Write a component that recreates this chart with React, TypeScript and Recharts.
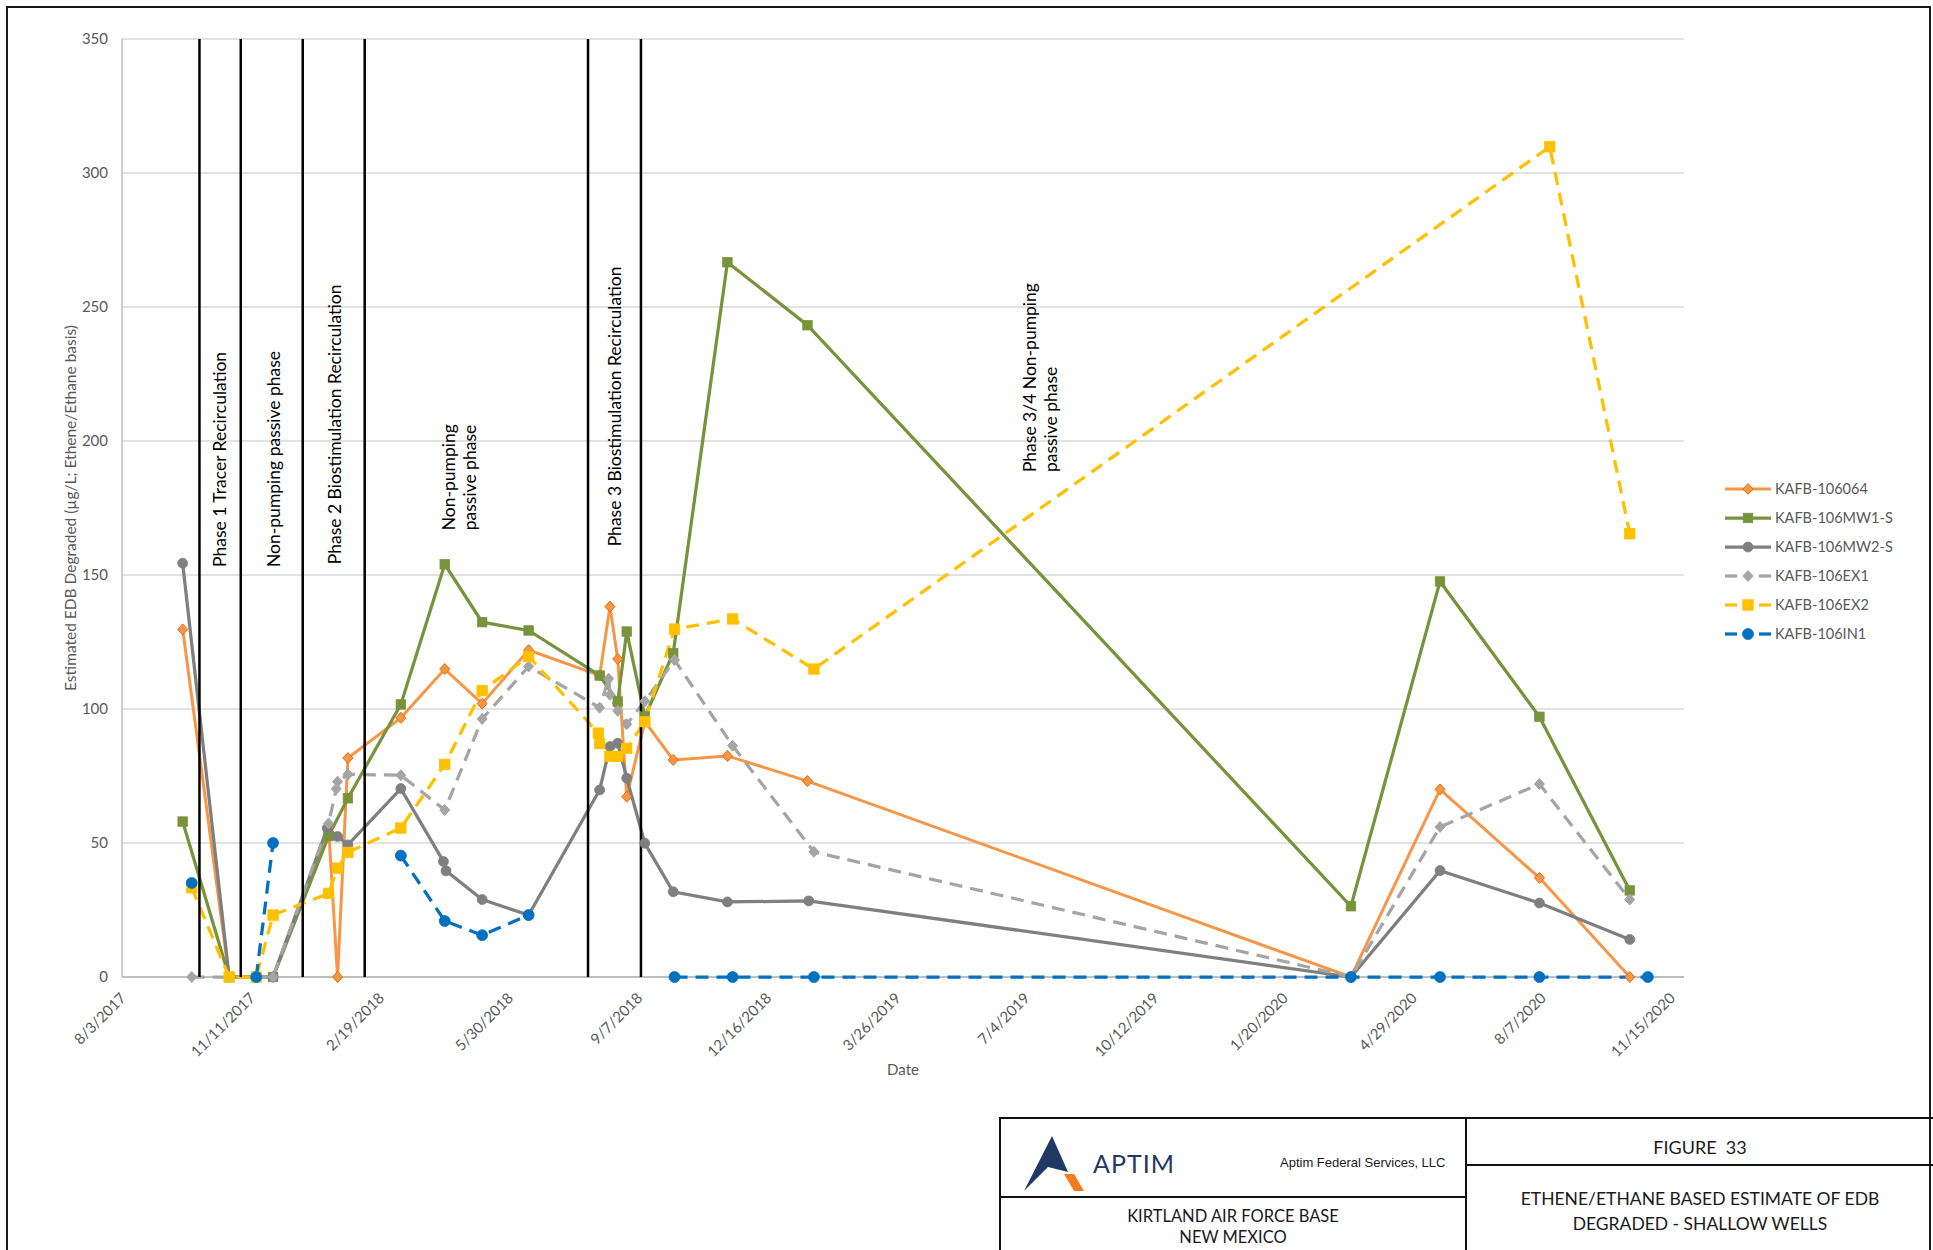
import React from 'react';
import { LineChart, Line, XAxis, YAxis, CartesianGrid, ReferenceLine, ReferenceDot, Label } from 'recharts';

const FONT = 'Lato, "Noto Sans", sans-serif';
const AXIS_TEXT = '#595959';

// axis ticks (Excel date axis, major unit 100 days)
const xTickLabels = ['8/3/2017', '11/11/2017', '2/19/2018', '5/30/2018', '9/7/2018', '12/16/2018', '3/26/2019', '7/4/2019', '10/12/2019', '1/20/2020', '4/29/2020', '8/7/2020', '11/15/2020'];
const xAxisMax = '11/25/2020';
const yTicks = [0, 50, 100, 150, 200, 250, 300, 350];

// phase boundaries and annotations
const phaseLineDates = ['10/2/2017', '11/3/2017', '12/21/2017', '2/7/2018', '7/30/2018', '9/9/2018'];
const phaseLabelLines = [
  ['Phase 1 Tracer Recirculation'],
  ['Non-pumping passive phase'],
  ['Phase 2 Biostimulation Recirculation'],
  ['Non-pumping', 'passive phase'],
  ['Phase 3 Biostimulation Recirculation'],
  ['Phase 3/4 Non-pumping', 'passive phase'],
];
const phaseLabelDates = ['10/17/2017', '11/28/2017', '1/14/2018', '4/21/2018', '8/19/2018', '7/15/2019'];
const phaseLabelBase = [153, 153, 154, 166.7, 160.7, 188.4];

// KAFB-106064
const dates064 = ['9/19/2017', '10/25/2017', '11/28/2017', '1/10/2018', '1/17/2018', '1/25/2018', '3/7/2018', '4/10/2018', '5/9/2018', '6/14/2018', '8/8/2018', '8/16/2018', '8/22/2018', '8/29/2018', '9/12/2018', '10/4/2018', '11/15/2018', '1/16/2019', '3/12/2020', '5/20/2020', '8/5/2020', '10/14/2020'];
const vals064 = [129.7, 0, 0, 56, 0, 81.7, 96.7, 114.9, 102, 122, 112.5, 138.2, 118.7, 67.3, 95.3, 81, 82.5, 73.1, 0, 70, 37, 0];

// KAFB-106MW1-S
const datesMW1 = ['9/19/2017', '10/25/2017', '11/28/2017', '1/10/2018', '1/25/2018', '3/7/2018', '4/10/2018', '5/9/2018', '6/14/2018', '8/8/2018', '8/22/2018', '8/29/2018', '9/12/2018', '10/4/2018', '11/15/2018', '1/16/2019', '3/12/2020', '5/20/2020', '8/5/2020', '10/14/2020'];
const valsMW1 = [58, 0, 0, 52.6, 66.7, 101.7, 154, 132.4, 129.3, 112.5, 102.8, 128.9, 97.2, 120.8, 266.7, 243.2, 26.4, 147.6, 97.1, 32.3];

// KAFB-106MW2-S
const datesMW2 = ['9/19/2017', '10/25/2017', '11/28/2017', '1/9/2018', '1/17/2018', '1/25/2018', '3/7/2018', '4/9/2018', '4/11/2018', '5/9/2018', '6/14/2018', '8/8/2018', '8/16/2018', '8/22/2018', '8/29/2018', '9/12/2018', '10/4/2018', '11/15/2018', '1/17/2019', '3/12/2020', '5/20/2020', '8/5/2020', '10/14/2020'];
const valsMW2 = [154.4, 0, 0, 55.5, 52.4, 49.3, 70.3, 43.1, 39.6, 28.9, 23.1, 69.8, 86, 87.2, 74.2, 49.9, 31.8, 28, 28.4, 0, 39.7, 27.6, 14];

// KAFB-106EX1
const datesEX1 = ['9/26/2017', '10/25/2017', '11/28/2017', '1/10/2018', '1/16/2018', '1/17/2018', '1/25/2018', '3/7/2018', '4/10/2018', '5/9/2018', '6/14/2018', '8/8/2018', '8/15/2018', '8/16/2018', '8/22/2018', '8/29/2018', '9/12/2018', '10/5/2018', '11/19/2018', '1/21/2019', '3/12/2020', '5/20/2020', '8/5/2020', '10/14/2020'];
const valsEX1 = [0, 0, 0, 57.3, 70.2, 72.9, 75.6, 75.3, 62.3, 96.3, 115.9, 100.5, 111.3, 105.3, 99.3, 94.3, 102.9, 118.3, 86.3, 46.7, 0, 56, 72, 28.9];

// KAFB-106EX2
const datesEX2 = ['9/26/2017', '10/25/2017', '11/15/2017', '11/28/2017', '1/10/2018', '1/17/2018', '1/25/2018', '3/7/2018', '4/10/2018', '5/9/2018', '6/14/2018', '8/7/2018', '8/8/2018', '8/16/2018', '8/22/2018', '8/29/2018', '9/12/2018', '10/5/2018', '11/19/2018', '1/21/2019', '8/13/2020', '10/14/2020'];
const valsEX2 = [33.3, 0, 0, 23.1, 31.2, 40.6, 46.5, 55.6, 79.3, 106.9, 119.6, 91, 87.1, 82.3, 82.3, 85.3, 95.3, 129.8, 133.6, 114.9, 309.8, 165.4];

// KAFB-106IN1 (null = no sample, line breaks)
const datesIN1 = ['9/26/2017', '10/25/2017', '11/15/2017', '11/28/2017', '1/10/2018', '3/7/2018', '4/10/2018', '5/9/2018', '6/14/2018', '8/8/2018', '10/5/2018', '11/19/2018', '1/21/2019', '3/12/2020', '5/20/2020', '8/5/2020', '10/28/2020'];
const valsIN1 = [35.1, null, 0, 50, null, 45.3, 20.9, 15.6, 23.1, null, 0, 0, 0, 0, 0, 0, 0];

const toDay = (s: string) => {
  const [m, d, y] = s.split('/').map(Number);
  return Date.UTC(y, m - 1, d) / 86400000;
};
const fmtDay = (n: number) => {
  const dt = new Date(Math.round(n) * 86400000);
  return `${dt.getUTCMonth() + 1}/${dt.getUTCDate()}/${dt.getUTCFullYear()}`;
};
const build = (dates: string[], vals: (number | null)[]) => dates.map((d, i) => ({ x: toDay(d), y: vals[i] }));

type Shape = 'diamond' | 'square' | 'circle';

const series = [
  { name: 'KAFB-106064', data: build(dates064, vals064), color: '#F79646', edge: '#E46C0A', shape: 'diamond' as Shape, dashed: false, width: 3, size: 10 },
  { name: 'KAFB-106MW1-S', data: build(datesMW1, valsMW1), color: '#77933C', edge: '#77933C', shape: 'square' as Shape, dashed: false, width: 3.25, size: 9.5 },
  { name: 'KAFB-106MW2-S', data: build(datesMW2, valsMW2), color: '#7F7F7F', edge: '#7F7F7F', shape: 'circle' as Shape, dashed: false, width: 3.25, size: 10 },
  { name: 'KAFB-106EX1', data: build(datesEX1, valsEX1), color: '#A5A5A5', edge: '#A5A5A5', shape: 'diamond' as Shape, dashed: true, width: 3.25, size: 10 },
  { name: 'KAFB-106EX2', data: build(datesEX2, valsEX2), color: '#FFC000', edge: '#FFC000', shape: 'square' as Shape, dashed: true, width: 3.25, size: 10.5 },
  { name: 'KAFB-106IN1', data: build(datesIN1, valsIN1), color: '#0070C0', edge: '#0070C0', shape: 'circle' as Shape, dashed: true, width: 3.25, size: 11 },
];

function Marker({ cx, cy, shape, fill, stroke, size }: { cx: number; cy: number; shape: Shape; fill: string; stroke: string; size: number }) {
  const h = size / 2;
  if (shape === 'diamond') {
    return <polygon points={`${cx},${cy - h - 0.5} ${cx + h},${cy} ${cx},${cy + h + 0.5} ${cx - h},${cy}`} fill={fill} stroke={stroke} strokeWidth={1} />;
  }
  if (shape === 'square') {
    return <rect x={cx - h} y={cy - h} width={size} height={size} fill={fill} stroke={stroke} strokeWidth={0.75} />;
  }
  return <circle cx={cx} cy={cy} r={h} fill={fill} stroke={stroke} strokeWidth={0.75} />;
}

function XTick(props: any) {
  const { x, y, payload } = props;
  const ax = x + 5;
  const ay = y + 22;
  return (
    <text x={ax} y={ay} textAnchor="end" transform={`rotate(-45 ${ax} ${ay})`} fill={AXIS_TEXT} fontSize={15} fontFamily={FONT}>
      {fmtDay(payload.value)}
    </text>
  );
}

function PhaseLabel(props: any) {
  const { viewBox, lines } = props;
  if (!viewBox) return null;
  const cx = viewBox.x + (viewBox.width || 0) / 2;
  const cy = viewBox.y + (viewBox.height || 0) / 2;
  const lh = 21;
  return (
    <text transform={`rotate(-90 ${cx} ${cy})`} fontFamily={FONT} fontSize={17.5} fill="#000" dominantBaseline="central">
      {lines.map((t: string, i: number) => (
        <tspan key={i} x={cx} y={cy + (i - (lines.length - 1) / 2) * lh}>{t}</tspan>
      ))}
    </text>
  );
}

function LegendIcon({ s }: { s: (typeof series)[number] }) {
  return (
    <svg width={48} height={16} style={{ display: 'block' }}>
      {s.dashed ? (
        <>
          <line x1={1} y1={8} x2={13} y2={8} stroke={s.color} strokeWidth={s.width} />
          <line x1={35} y1={8} x2={47} y2={8} stroke={s.color} strokeWidth={s.width} />
        </>
      ) : (
        <line x1={1} y1={8} x2={47} y2={8} stroke={s.color} strokeWidth={s.width} />
      )}
      <Marker cx={24} cy={8} shape={s.shape} fill={s.color} stroke={s.edge} size={s.size} />
    </svg>
  );
}

const cell: React.CSSProperties = { position: 'absolute', fontFamily: FONT, color: '#1a1a1a', textAlign: 'center' };

export default function App() {
  const xTicks = xTickLabels.map(toDay);
  return (
    <div style={{ position: 'absolute', left: 0, top: 0, width: 1933, height: 1250, background: '#fff', overflow: 'hidden' }}>
      {/* page frame */}
      <div style={{ position: 'absolute', left: 6, top: 6, width: 1921, height: 1300, border: '2px solid #1a1a1a' }} />

      <LineChart width={1933} height={1250} margin={{ top: 39, right: 249, bottom: 173, left: 62 }} style={{ position: 'absolute', left: 0, top: 0 }}>
        <CartesianGrid vertical={false} stroke="#D9D9D9" strokeWidth={1.5} />
        <XAxis
          type="number"
          dataKey="x"
          domain={[toDay(xTickLabels[0]), toDay(xAxisMax)]}
          ticks={xTicks}
          interval={0}
          height={100}
          tickLine={false}
          tickSize={0}
          tickMargin={0}
          axisLine={false}
          tick={<XTick />}
        >
          <Label
            content={(p: any) => (
              <text x={p.viewBox.x + p.viewBox.width / 2} y={p.viewBox.y + 92} textAnchor="middle" dominantBaseline="central" fill={AXIS_TEXT} fontSize={15} fontFamily={FONT}>
                Date
              </text>
            )}
          />
        </XAxis>
        <YAxis
          type="number"
          domain={[0, 350]}
          ticks={yTicks}
          width={60}
          tickLine={false}
          tickSize={0}
          tickMargin={14}
          axisLine={{ stroke: '#BFBFBF', strokeWidth: 1.5 }}
          tick={{ fill: AXIS_TEXT, fontSize: 15, fontFamily: FONT }}
        >
          <Label
            content={(p: any) => {
              const lx = p.viewBox.x + 8;
              const ly = p.viewBox.y + p.viewBox.height / 2;
              return (
                <text x={lx} y={ly} transform={`rotate(-90 ${lx} ${ly})`} textAnchor="middle" dominantBaseline="central" fill={AXIS_TEXT} fontSize={15.5} fontFamily={FONT}>
                  Estimated EDB Degraded (µg/L; Ethene/Ethane basis)
                </text>
              );
            }}
          />
        </YAxis>

        {/* horizontal axis line, kept beneath the series */}
        <ReferenceLine y={0} stroke="#BFBFBF" strokeWidth={2} />

        {series.map((s) => (
          <Line
            key={s.name}
            data={s.data}
            dataKey="y"
            name={s.name}
            type="linear"
            stroke={s.color}
            strokeWidth={s.width}
            strokeDasharray={s.dashed ? '13 8' : undefined}
            isAnimationActive={false}
            activeDot={false}
            dot={(p: any) =>
              p.cy == null || p.payload?.y == null ? (
                <g key={`${s.name}-${p.index}`} />
              ) : (
                <Marker key={`${s.name}-${p.index}`} cx={p.cx} cy={p.cy} shape={s.shape} fill={s.color} stroke={s.edge} size={s.size} />
              )
            }
          />
        ))}

        {phaseLineDates.map((d) => (
          <ReferenceLine key={d} x={toDay(d)} stroke="#000" strokeWidth={2.5} />
        ))}
        {phaseLabelLines.map((lines, i) => (
          <ReferenceDot
            key={lines.join(' ')}
            x={toDay(phaseLabelDates[i])}
            y={phaseLabelBase[i]}
            r={1}
            fill="none"
            stroke="none"
            label={<PhaseLabel lines={lines} />}
          />
        ))}
      </LineChart>

      {/* legend */}
      <div style={{ position: 'absolute', left: 1724, top: 474 }}>
        {series.map((s) => (
          <div key={s.name} style={{ display: 'flex', alignItems: 'center', height: 29 }}>
            <LegendIcon s={s} />
            <span style={{ marginLeft: 3, fontFamily: FONT, fontSize: 14.5, color: AXIS_TEXT }}>{s.name}</span>
          </div>
        ))}
      </div>

      {/* title block */}
      <div style={{ position: 'absolute', left: 999, top: 1117, width: 940, height: 140, borderTop: '2px solid #111', borderLeft: '2px solid #111' }} />
      <div style={{ position: 'absolute', left: 1465, top: 1117, width: 2, height: 140, background: '#111' }} />
      <div style={{ position: 'absolute', left: 999, top: 1196, width: 467, height: 2, background: '#111' }} />
      <div style={{ position: 'absolute', left: 1466, top: 1164, width: 470, height: 2, background: '#111' }} />

      <svg style={{ position: 'absolute', left: 1018, top: 1132 }} width={72} height={64}>
        <polygon points="34,4 50,40 30,35 6,59" fill="#1F3864" />
        <polygon points="46,42 56,42 66,59 56,59" fill="#F47B20" />
      </svg>
      <div style={{ ...cell, left: 1093, top: 1148, fontSize: 25, color: '#1F3864', letterSpacing: 1, textAlign: 'left' }}>APTIM</div>
      <div style={{ ...cell, left: 1280, top: 1155, fontSize: 13, fontFamily: '"Liberation Sans", Arial, sans-serif', textAlign: 'left' }}>Aptim Federal Services, LLC</div>
      <div style={{ ...cell, left: 1000, width: 466, top: 1206, fontSize: 16.5, lineHeight: '21px' }}>
        KIRTLAND AIR FORCE BASE
        <br />
        NEW MEXICO
      </div>
      <div style={{ ...cell, left: 1467, width: 466, top: 1136, fontSize: 18, whiteSpace: 'pre' }}>FIGURE  33</div>
      <div style={{ ...cell, left: 1467, width: 466, top: 1186, fontSize: 17.5, lineHeight: '25px' }}>
        ETHENE/ETHANE BASED ESTIMATE OF EDB
        <br />
        DEGRADED - SHALLOW WELLS
      </div>
    </div>
  );
}
